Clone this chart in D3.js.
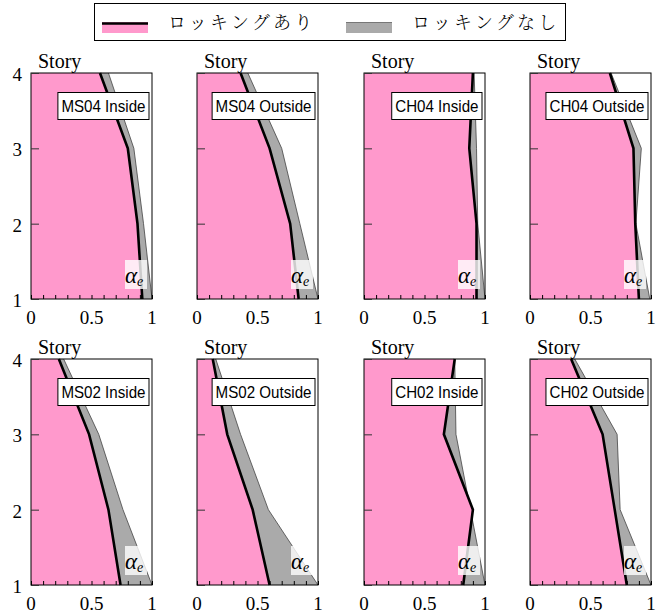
<!DOCTYPE html>
<html>
<head>
<meta charset="utf-8">
<script src="https://d3js.org/d3.v7.min.js"></script>
<style>
  body { margin: 0; background: #fff; }
  svg { font-family: Liberation Serif; }
</style>
</head>
<body>
<script>
// story levels
var stories = [1, 2, 3, 4];
var panelNames = ["MS04 Inside", "MS04 Outside", "CH04 Inside", "CH04 Outside",
                  "MS02 Inside", "MS02 Outside", "CH02 Inside", "CH02 Outside"];
// alpha_e per story (1..4), with rocking (pink + black line)
var withRocking = [
  [0.92, 0.88, 0.80, 0.57],
  [0.84, 0.77, 0.60, 0.36],
  [0.93, 0.93, 0.87, 0.90],
  [0.90, 0.87, 0.855, 0.66],
  [0.74, 0.64, 0.48, 0.23],
  [0.60, 0.46, 0.25, 0.13],
  [0.82, 0.90, 0.66, 0.75],
  [0.80, 0.70, 0.60, 0.34]
];
// alpha_e per story, without rocking (gray)
var withoutRocking = [
  [1.0, 0.93, 0.85, 0.64],
  [1.0, 0.85, 0.70, 0.42],
  [1.0, 0.94, 0.93, 0.91],
  [0.99, 0.875, 0.92, 0.67],
  [1.0, 0.76, 0.56, 0.27],
  [1.0, 0.59, 0.36, 0.155],
  [1.0, 0.88, 0.76, 0.75],
  [1.0, 0.745, 0.72, 0.37]
];
var legendLabels = ["ロッキングあり", "ロッキングなし"];
var xTicks = [0, 0.5, 1];
var yTicks = [1, 2, 3, 4];

var W = 665, H = 613;
var pink = "#ff99cc", gray = "#aaaaaa";
var SERIF = "Liberation Serif";
var SANS = "Liberation Sans";
var colX = [31, 197, 364, 530], rowY = [73, 359];
var pw = 121, ph = 226;

var svg = d3.select("body").append("svg").attr("width", W).attr("height", H);

// legend
var lg = svg.append("g");
lg.append("rect").attr("x", 94.5).attr("y", 3.5).attr("width", 471).attr("height", 37)
  .attr("fill", "#fff").attr("stroke", "#000").attr("stroke-width", 1);
lg.append("rect").attr("x", 102).attr("y", 22).attr("width", 46).attr("height", 11).attr("fill", pink);
lg.append("line").attr("x1", 102).attr("x2", 148).attr("y1", 23.5).attr("y2", 23.5)
  .attr("stroke", "#000").attr("stroke-width", 2.5);
lg.append("rect").attr("x", 346).attr("y", 22).attr("width", 46).attr("height", 11).attr("fill", gray);
lg.append("line").attr("x1", 346).attr("x2", 392).attr("y1", 22.5).attr("y2", 22.5)
  .attr("stroke", "#777").attr("stroke-width", 1);
lg.selectAll("text.leg").data(legendLabels).enter().append("text")
  .attr("class", "leg")
  .attr("x", function (d, i) { return i == 0 ? 168 : 412; })
  .attr("y", 29)
  .style("font-family", "Noto Serif CJK JP")
  .style("font-size", "18px")
  .style("font-weight", "300")
  .style("letter-spacing", "3.2px")
  .text(function (d) { return d; });

panelNames.forEach(function (name, p) {
  var col = p % 4, row = Math.floor(p / 4);
  var g = svg.append("g").attr("transform", "translate(" + colX[col] + "," + rowY[row] + ")");
  var x = d3.scaleLinear().domain([0, 1]).range([0, pw]);
  var y = d3.scaleLinear().domain([1, 4]).range([ph, 0]);

  var on = stories.map(function (s, i) { return { s: s, v: withRocking[p][i] }; });
  var off = stories.map(function (s, i) { return { s: s, v: withoutRocking[p][i] }; });

  var area = d3.area().x0(x(0)).x1(function (d) { return x(d.v); }).y(function (d) { return y(d.s); });
  var line = d3.line().x(function (d) { return x(d.v); }).y(function (d) { return y(d.s); });

  g.append("path").datum(off).attr("d", area).attr("fill", gray);
  g.append("path").datum(off).attr("d", line).attr("fill", "none").attr("stroke", "#444").attr("stroke-width", 0.8);
  g.append("path").datum(on).attr("d", area).attr("fill", pink);
  g.append("path").datum(on).attr("d", line).attr("fill", "none").attr("stroke", "#000").attr("stroke-width", 2.6);

  // frame
  g.append("rect").attr("x", 0).attr("y", 0).attr("width", pw).attr("height", ph)
    .attr("fill", "none").attr("stroke", "#000").attr("stroke-width", 1);

  // y ticks inward
  var yAx = g.append("g").call(d3.axisLeft(y).tickValues(yTicks).tickSize(-8)
    .tickFormat(col == 0 ? d3.format("d") : ""));
  yAx.attr("font-family", null).attr("font-size", null);
  yAx.select(".domain").remove();
  yAx.selectAll("text").attr("x", -9).attr("dy", "0.4em")
    .style("font-size", "19px").style("font-family", SERIF).attr("fill", "#000");
  yAx.selectAll("line").attr("stroke", "#333");

  // x minor ticks inward
  var xAx = g.append("g").attr("transform", "translate(0," + ph + ")")
    .call(d3.axisBottom(x).tickValues(d3.range(0, 11).map(function (i) { return i / 10; }))
      .tickSize(-4).tickFormat(""));
  xAx.select(".domain").remove();
  xAx.selectAll("line").attr("stroke", "#000");
  g.append("g").selectAll("text").data(xTicks).enter().append("text")
    .attr("x", function (d) { return x(d); }).attr("y", ph + 25)
    .attr("text-anchor", "middle").style("font-size", "19px").style("font-family", SERIF)
    .text(function (d) { return d; });

  // Story label
  g.append("text").attr("x", 7).attr("y", -5).style("font-size", "20px")
    .style("font-family", SERIF).text("Story");

  // case label box (text is slightly condensed in the original)
  var lb = g.append("g");
  var t = lb.append("text").attr("y", 39)
    .style("font-family", SANS).style("font-size", "17px").text(name);
  var tw = t.node().getComputedTextLength() * 0.89;
  t.attr("textLength", tw).attr("lengthAdjust", "spacingAndGlyphs");
  var bx = pw - 3 - tw - 7;
  lb.insert("rect", "text").attr("x", bx).attr("y", 19.5).attr("width", tw + 7).attr("height", 27)
    .attr("fill", "#fff").attr("stroke", "#000").attr("stroke-width", 1);
  t.attr("x", bx + 3.5);

  // alpha_e label
  g.append("rect").attr("x", pw - 27).attr("y", ph - 39).attr("width", 22).attr("height", 29)
    .attr("fill", "#fff").attr("opacity", 0.8);
  var a = g.append("text").attr("x", pw - 27).attr("y", ph - 16)
    .style("font-family", SERIF).style("font-style", "italic").style("font-size", "23px");
  a.append("tspan").text("α");
  a.append("tspan").attr("dy", 3).style("font-size", "14px").text("e");
});
</script>
</body>
</html>
